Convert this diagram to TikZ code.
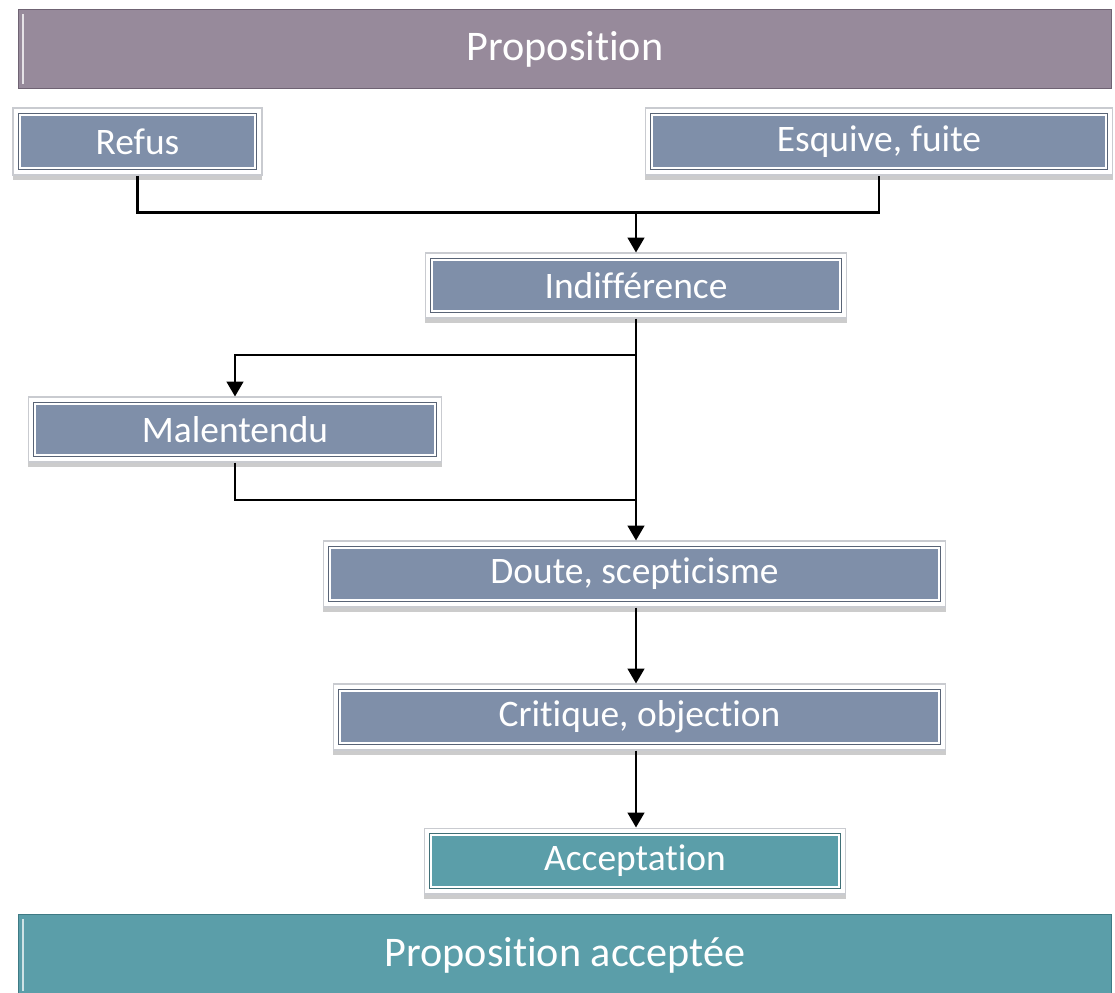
\documentclass[tikz,border=0pt]{standalone}
\usepackage{fontspec}
\setmainfont{Carlito}[RawFeature={-liga;-clig;-calt;-dlig}]
\usetikzlibrary{arrows.meta,shadows,calc}
\definecolor{boxblue}{HTML}{7F8FA9}
\definecolor{mauve}{HTML}{978A9B}
\definecolor{mauvedark}{HTML}{6F6373}
\definecolor{teal}{HTML}{5B9EA9}
\definecolor{tealdark}{HTML}{3E7A84}
\definecolor{frameedge}{HTML}{C9CBD0}
\tikzset{
  stagebox/.style={
    rectangle, inner sep=0pt, text=white,
    font=\fontsize{21.3}{25}\selectfont,
    fill=white, draw=frameedge, line width=0.6pt,
    drop shadow={opacity=0.4, shadow xshift=0pt, shadow yshift=-3pt},
    path picture={
      \fill[#1, draw=#1!70!black, line width=0.5pt]
        ($(path picture bounding box.south west)+(3pt,3pt)$) rectangle
        ($(path picture bounding box.north east)+(-3pt,-3pt)$);
      \draw[white, line width=1pt]
        ($(path picture bounding box.south west)+(4.1pt,4.1pt)$) rectangle
        ($(path picture bounding box.north east)+(-4.1pt,-4.1pt)$);
    }
  },
  stagebox/.default=boxblue,
  bar/.style={
    rectangle, inner sep=0pt, text=white,
    font=\fontsize{24}{28}\selectfont,
    minimum width=21.88cm, minimum height=1.58cm
  },
  link/.style={draw=black, line width=1.35pt},
  arr/.style={link, -{Triangle[width=9.5pt,length=8.5pt]}}
}
\begin{document}
\begin{tikzpicture}[x=0.02cm,y=-0.02cm]
  \useasboundingbox (0,0) rectangle (1115,992);

  % top and bottom bars
  \node[bar, fill=mauve, draw=mauvedark, line width=0.6pt] (prop) at (565,49) {Proposition};
  \draw[white!75!mauve, line width=1.3pt] ([xshift=3pt,yshift=-3pt]prop.north west) -- ([xshift=3pt,yshift=3pt]prop.south west);
  \node[bar, fill=teal, draw=tealdark, line width=0.6pt, minimum height=1.62cm] (final) at (565,955) {Proposition acceptée};
  \draw[white!70!teal, line width=1.3pt] ([xshift=3pt,yshift=-3pt]final.north west) -- ([xshift=3pt,yshift=3pt]final.south west);

  % stages
  \node[stagebox, minimum width=4.98cm, minimum height=1.34cm] (refus) at (137.5,141.5) {Refus};
  \node[stagebox, minimum width=9.36cm, minimum height=1.34cm] (esquive) at (879,141.5) {Esquive, fuite};
  \node[stagebox, minimum width=8.44cm, minimum height=1.30cm] (indiff) at (636,285.5) {Indifférence};
  \node[stagebox, minimum width=8.28cm, minimum height=1.30cm] (malent) at (235,429.5) {Malentendu};
  \node[stagebox, minimum width=12.46cm, minimum height=1.32cm] (doute) at (634.5,574) {Doute, scepticisme};
  \node[stagebox, minimum width=12.26cm, minimum height=1.32cm] (critique) at (639.5,717) {Critique, objection};
  \node[stagebox=teal, minimum width=8.44cm, minimum height=1.32cm] (accept) at (635,861) {Acceptation};

  % junction points
  \coordinate (j1) at (636,212);
  \coordinate (j2) at (636,355);
  \coordinate (j3) at (636,500);

  % connectors
  \draw[link] (refus.south) -- ++(0,37) -| (esquive.south);
  \draw[arr] (j1) -- (indiff.north);
  \draw[arr] (indiff.south) -- (indiff.south |- doute.north);
  \draw[arr] (j2) -| (malent.north);
  \draw[link] (malent.south) |- (j3);
  \draw[arr] (doute.south -| j1) -- (critique.north -| j1);
  \draw[arr] (critique.south -| j1) -- (accept.north -| j1);
\end{tikzpicture}
\end{document}
